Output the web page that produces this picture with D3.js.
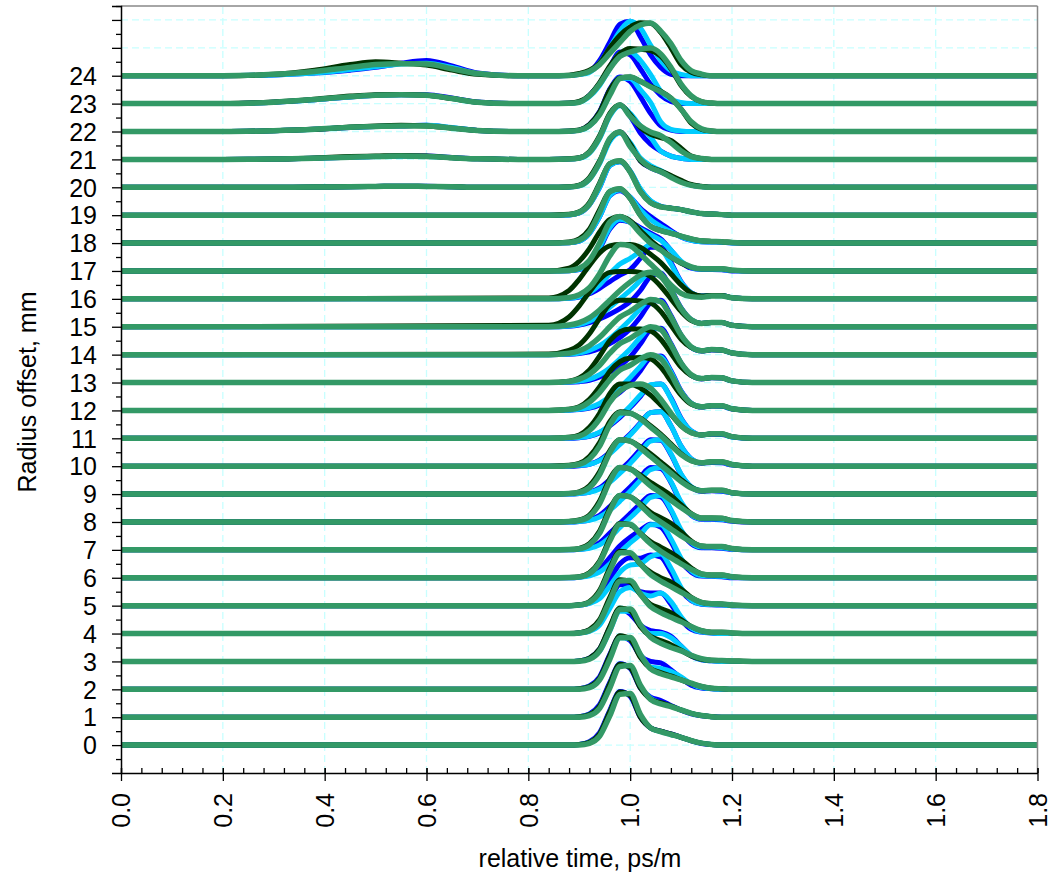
<!DOCTYPE html>
<html><head><meta charset="utf-8">
<script src="https://cdn.jsdelivr.net/npm/d3@7"></script>
<style>body{margin:0;background:#fff}svg{display:block}text{font-family:"Liberation Sans",Arial,sans-serif;fill:#000}</style>
</head><body><div id="chart"></div>
<script>
// ---- data ----
const rows = d3.range(0, 25); // radius offsets, mm
const yTickLabels = d3.range(0, 25);
const xTickValues = [0.0,0.2,0.4,0.6,0.8,1.0,1.2,1.4,1.6,1.8];
const pulseT = [0.84,0.88,0.90,0.92,0.94,0.96,0.98,1.00,1.02,1.04,1.06,1.08,1.10,1.12,1.14,1.16,1.18,1.20,1.24];
const humpT = [0.20,0.30,0.38,0.45,0.50,0.55,0.60,0.65,0.70,0.78];
const humpRows = [20,21,22,23,24];

const bluePulse = [
[0,0,.02,.12,.45,1.25,1.92,1.75,1.0,.62,.5,.4,.28,.15,.06,.02,0,0,0],
[0,0,.02,.12,.45,1.25,1.92,1.75,1.05,.72,.6,.42,.25,.12,.05,.02,0,0,0],
[0,0,.02,.12,.45,1.25,1.9,1.75,1.2,1.0,.95,.7,.4,.15,.05,.02,0,0,0],
[0,0,.02,.12,.45,1.22,1.88,1.7,1.3,1.1,1.05,.9,.55,.2,.06,.02,0,0,0],
[0,0,.02,.12,.42,1.15,1.75,1.75,1.5,1.45,1.45,1.05,.5,.15,.05,.02,0,0,0],
[0,0,.02,.1,.35,.95,1.5,1.72,1.7,1.82,1.75,1.2,.55,.18,.05,.03,.02,0,0],
[0,0,.02,.1,.3,.72,1.15,1.45,1.7,1.92,1.82,1.3,.6,.2,.06,.05,.04,0,0],
[0,0,.02,.08,.25,.6,.95,1.3,1.65,1.95,1.9,1.4,.65,.22,.08,.08,.06,.02,0],
[0,0,.02,.08,.24,.55,.9,1.25,1.62,1.95,1.92,1.42,.68,.24,.1,.1,.08,.03,0],
[0,0,.02,.07,.22,.52,.85,1.2,1.6,1.95,1.93,1.42,.7,.25,.1,.12,.1,.04,0],
[0,0,.02,.07,.22,.5,.82,1.15,1.55,1.92,1.95,1.45,.72,.26,.11,.13,.12,.04,0],
[0,0,.02,.07,.2,.45,.75,1.1,1.5,1.9,1.95,1.45,.72,.26,.12,.15,.14,.05,0],
[0,.01,.03,.08,.2,.4,.65,.98,1.42,1.88,1.95,1.42,.7,.26,.12,.16,.15,.05,0],
[0,.01,.03,.08,.2,.38,.6,.92,1.38,1.88,1.95,1.4,.7,.26,.13,.17,.16,.06,0],
[0,.01,.04,.1,.22,.4,.62,.92,1.35,1.85,1.95,1.4,.7,.26,.13,.17,.16,.06,0],
[0,.02,.06,.15,.28,.45,.65,.9,1.3,1.8,1.92,1.35,.68,.25,.12,.15,.15,.05,0],
[0,.02,.06,.18,.38,.62,.85,1.05,1.45,1.85,1.85,1.3,.62,.22,.1,.12,.12,.04,0],
[0,.01,.05,.28,.8,1.5,1.82,1.75,1.55,1.35,1.15,.75,.32,.1,.05,.05,.04,0,0],
[0,.01,.07,.35,.95,1.7,1.88,1.65,1.25,.95,.7,.45,.22,.1,.05,.04,.03,0,0],
[0,.01,.08,.38,1.0,1.78,1.92,1.58,.92,.5,.32,.25,.2,.12,.06,.04,.02,0,0],
[0,.01,.06,.3,.9,1.7,1.98,1.55,.95,.7,.55,.38,.22,.08,.03,0,0,0,0],
[0,.01,.05,.25,.8,1.6,1.95,1.55,.95,.55,.3,.12,.04,0,0,0,0,0,0],
[0,.01,.05,.25,.72,1.52,1.95,1.8,1.25,.65,.2,.05,0,0,0,0,0,0,0],
[0,.01,.06,.3,.72,1.32,1.85,1.75,1.25,.7,.3,.08,0,0,0,0,0,0,0],
[0,.01,.05,.15,.55,1.2,1.85,1.95,1.4,.75,.3,.05,0,0,0,0,0,0,0]];

const cyanPulse = [
[0,0,.02,.1,.38,1.18,1.88,1.8,1.05,.62,.48,.38,.28,.16,.07,.02,0,0,0],
[0,0,.02,.1,.38,1.18,1.88,1.8,1.1,.68,.5,.4,.26,.14,.06,.02,0,0,0],
[0,0,.02,.1,.38,1.15,1.85,1.8,1.25,.8,.75,.65,.45,.2,.06,.02,0,0,0],
[0,0,.02,.1,.36,1.1,1.8,1.8,1.3,1.0,1.0,.85,.55,.22,.07,.02,0,0,0],
[0,0,.02,.08,.3,.9,1.5,1.65,1.45,1.35,1.45,1.15,.6,.2,.06,.02,0,0,0],
[0,0,.02,.08,.25,.7,1.2,1.45,1.5,1.75,1.85,1.35,.65,.2,.06,.04,.03,0,0],
[0,0,.02,.07,.2,.5,.9,1.25,1.55,1.9,1.9,1.4,.7,.25,.08,.06,.05,.02,0],
[0,0,.02,.06,.18,.45,.8,1.15,1.5,1.88,1.95,1.45,.72,.26,.1,.1,.08,.03,0],
[0,0,.02,.06,.18,.42,.75,1.1,1.5,1.88,1.95,1.45,.72,.26,.12,.12,.1,.04,0],
[0,0,.02,.06,.18,.42,.75,1.1,1.5,1.9,1.95,1.45,.72,.26,.12,.13,.12,.04,0],
[0,.01,.03,.07,.2,.45,.78,1.12,1.52,1.92,1.95,1.45,.72,.26,.12,.15,.14,.05,0],
[0,.01,.03,.08,.22,.48,.8,1.15,1.55,1.92,1.95,1.42,.7,.26,.12,.16,.15,.05,0],
[0,.01,.04,.1,.25,.5,.82,1.18,1.58,1.95,1.92,1.38,.68,.25,.13,.17,.16,.06,0],
[0,.02,.05,.12,.28,.52,.85,1.2,1.62,1.97,1.9,1.35,.68,.26,.14,.18,.17,.06,0],
[0,.02,.06,.15,.32,.58,.9,1.25,1.65,1.97,1.9,1.35,.68,.26,.14,.18,.17,.06,0],
[0,.03,.08,.2,.4,.7,1.0,1.3,1.65,1.95,1.85,1.3,.65,.25,.12,.15,.15,.05,0],
[0,.02,.08,.22,.5,.9,1.25,1.45,1.7,1.95,1.8,1.25,.6,.22,.1,.12,.12,.04,0],
[0,.01,.06,.3,.85,1.55,1.85,1.75,1.5,1.3,1.1,.75,.35,.12,.06,.06,.05,.02,0],
[0,.01,.07,.35,.95,1.7,1.9,1.65,1.2,.85,.6,.4,.22,.1,.05,.04,.03,0,0],
[0,.01,.08,.38,1.0,1.78,1.92,1.58,.95,.52,.32,.25,.2,.12,.06,.04,.02,0,0],
[0,.01,.05,.28,.85,1.65,1.95,1.6,1.05,.78,.6,.4,.22,.08,.03,0,0,0,0],
[0,.01,.04,.22,.75,1.55,1.92,1.65,1.2,.8,.3,.12,.04,0,0,0,0,0,0],
[0,.01,.04,.2,.65,1.45,1.92,1.9,1.5,1.05,.35,.08,.02,0,0,0,0,0,0],
[0,.01,.05,.25,.65,1.25,1.8,1.85,1.55,1.05,.45,.15,.04,0,0,0,0,0,0],
[0,.01,.04,.12,.45,1.0,1.6,1.95,1.72,1.1,.55,.18,.05,0,0,0,0,0,0]];

const darkGreenPulse = [
[0,0,.02,.1,.4,1.2,1.9,1.78,1.0,.62,.5,.4,.28,.16,.07,.02,0,0,0],
[0,0,.02,.1,.4,1.2,1.9,1.78,1.05,.65,.52,.4,.26,.14,.06,.02,0,0,0],
[0,0,.02,.1,.4,1.22,1.92,1.8,1.15,.75,.6,.48,.34,.2,.1,.04,.02,0,0],
[0,0,.02,.12,.45,1.25,1.92,1.82,1.25,.9,.75,.6,.4,.2,.08,.04,.03,.02,0],
[0,0,.03,.14,.5,1.3,1.93,1.85,1.4,1.05,.9,.75,.5,.25,.1,.05,.05,.02,0],
[0,0,.03,.15,.55,1.35,1.95,1.88,1.5,1.2,1.0,.85,.6,.3,.12,.07,.06,.02,0],
[0,.01,.04,.18,.6,1.4,1.95,1.9,1.6,1.3,1.1,.9,.65,.35,.14,.1,.1,.04,0],
[0,.01,.05,.22,.68,1.48,1.95,1.9,1.65,1.35,1.15,.95,.65,.32,.14,.12,.12,.05,0],
[0,.02,.07,.25,.75,1.55,1.95,1.9,1.68,1.42,1.2,.95,.62,.3,.14,.14,.13,.05,0],
[0,.02,.08,.3,.8,1.55,1.95,1.9,1.7,1.45,1.15,.85,.52,.25,.12,.14,.14,.05,0],
[0,.03,.1,.35,.85,1.6,1.95,1.9,1.72,1.45,1.15,.8,.45,.2,.12,.16,.16,.06,0],
[0,.04,.12,.4,.9,1.6,1.95,1.95,1.8,1.55,1.2,.85,.45,.2,.12,.16,.16,.06,0],
[0,.04,.13,.4,.85,1.4,1.75,1.88,1.9,1.85,1.55,1.05,.55,.22,.13,.17,.17,.06,0],
[0,.05,.16,.45,.95,1.5,1.82,1.92,1.92,1.85,1.55,1.05,.55,.25,.14,.18,.17,.06,0],
[.02,.15,.35,.75,1.3,1.8,1.95,1.95,1.92,1.85,1.55,1.05,.55,.25,.14,.18,.17,.06,0],
[.05,.35,.75,1.25,1.7,1.95,1.98,1.98,1.95,1.8,1.45,1.0,.55,.22,.12,.15,.15,.05,0],
[.03,.3,.7,1.2,1.65,1.9,1.95,1.95,1.85,1.6,1.3,.9,.5,.2,.1,.12,.12,.04,0],
[0,.1,.35,.8,1.4,1.85,1.95,1.8,1.45,1.1,.8,.5,.28,.14,.08,.08,.08,.03,0],
[0,.04,.15,.5,1.2,1.85,1.95,1.6,1.0,.6,.45,.35,.25,.15,.08,.06,.05,.02,0],
[0,.03,.12,.45,1.15,1.85,1.95,1.55,.85,.45,.3,.25,.2,.12,.06,.04,.02,0,0],
[0,.02,.08,.35,.95,1.72,1.98,1.55,.95,.72,.58,.42,.25,.1,.04,0,0,0,0],
[0,.02,.06,.28,.85,1.65,1.95,1.6,1.15,.9,.78,.68,.4,.12,.03,0,0,0,0],
[0,.02,.06,.25,.7,1.5,1.92,1.95,1.8,1.62,1.45,1.2,.8,.3,.08,.02,0,0,0],
[0,.02,.08,.3,.75,1.35,1.8,1.98,1.95,1.9,1.7,1.25,.65,.25,.07,.02,0,0,0],
[0,.02,.08,.2,.45,1.0,1.45,1.75,1.9,1.88,1.55,1.0,.4,.12,.03,0,0,0,0]];

const seaGreenPulse = [
[0,0,0,.06,.32,1.05,1.82,1.85,1.1,.62,.48,.38,.28,.16,.07,.02,0,0,0],
[0,0,0,.06,.32,1.05,1.82,1.85,1.15,.64,.48,.38,.26,.14,.06,.02,0,0,0],
[0,0,0,.06,.34,1.08,1.85,1.86,1.25,.74,.56,.45,.34,.22,.1,.04,.02,0,0],
[0,0,.01,.08,.38,1.12,1.86,1.88,1.32,.87,.65,.5,.38,.22,.1,.04,.03,.02,0],
[0,0,.02,.1,.42,1.18,1.88,1.9,1.42,.97,.75,.58,.42,.25,.1,.05,.05,.02,0],
[0,0,.02,.12,.48,1.25,1.9,1.9,1.5,1.12,.88,.68,.48,.28,.12,.07,.06,.02,0],
[0,.01,.03,.15,.55,1.32,1.92,1.92,1.58,1.22,.95,.72,.5,.3,.14,.1,.1,.04,0],
[0,.01,.04,.18,.6,1.4,1.95,1.9,1.6,1.25,1.0,.75,.5,.28,.14,.12,.12,.05,0],
[0,.02,.05,.2,.66,1.46,1.95,1.9,1.62,1.3,1.05,.78,.52,.28,.14,.14,.13,.05,0],
[0,.02,.06,.23,.7,1.48,1.95,1.9,1.65,1.35,1.05,.75,.45,.22,.12,.14,.14,.05,0],
[0,.02,.07,.26,.72,1.48,1.92,1.9,1.7,1.4,1.1,.75,.42,.2,.12,.16,.16,.06,0],
[0,.03,.08,.28,.7,1.3,1.7,1.9,1.95,1.8,1.4,.9,.45,.2,.12,.16,.16,.06,0],
[0,.03,.1,.3,.65,1.1,1.45,1.62,1.85,2.0,1.85,1.3,.65,.25,.13,.17,.17,.06,0],
[0,.04,.12,.3,.62,1.05,1.4,1.58,1.82,2.0,1.9,1.35,.7,.28,.14,.18,.17,.06,0],
[0,.05,.14,.32,.62,1.0,1.35,1.55,1.8,1.98,1.9,1.35,.7,.28,.14,.18,.17,.06,0],
[0,.06,.15,.32,.6,.95,1.3,1.6,1.85,1.95,1.8,1.3,.65,.25,.12,.15,.15,.05,0],
[0,.05,.15,.4,.9,1.55,1.95,1.9,1.6,1.25,.9,.5,.2,.08,.06,.1,.1,.04,0],
[0,.02,.1,.38,1.0,1.75,1.95,1.75,1.35,1.0,.75,.5,.3,.15,.08,.08,.08,.03,0],
[0,.02,.1,.4,1.1,1.85,1.95,1.6,1.0,.6,.45,.35,.25,.15,.08,.06,.05,.02,0],
[0,.02,.1,.4,1.1,1.85,1.95,1.55,.85,.45,.3,.25,.2,.12,.06,.04,.02,0,0],
[0,.01,.06,.3,.9,1.75,1.98,1.46,1.0,.7,.56,.36,.18,.07,.02,0,0,0,0],
[0,.01,.05,.25,.8,1.6,1.96,1.54,1.2,.98,.85,.6,.3,.1,.03,0,0,0,0],
[0,.01,.04,.2,.6,1.3,1.9,1.95,1.8,1.6,1.42,1.2,.8,.35,.1,.02,0,0,0],
[0,.01,.05,.28,.7,1.25,1.69,1.85,1.95,1.99,1.78,1.3,.7,.28,.07,.02,0,0,0],
[0,.01,.05,.15,.4,.8,1.2,1.59,1.82,1.89,1.6,1.15,.55,.18,.06,0,0,0,0]];

// left bumps of the outermost offsets (rows 20..24)
const blueHump = [
[0,0,.01,.02,.03,.04,.04,.02,0,0],
[0,.01,.04,.08,.1,.12,.12,.07,.02,0],
[0,.03,.08,.14,.18,.2,.22,.13,.04,0],
[0,.05,.14,.24,.3,.32,.32,.2,.06,0],
[0,.03,.1,.2,.3,.45,.55,.35,.1,0]];
const cyanHump = [
[0,0,.01,.02,.03,.04,.03,.02,0,0],
[0,.01,.04,.08,.1,.11,.1,.06,.02,0],
[0,.03,.08,.15,.18,.21,.22,.14,.04,0],
[0,.05,.14,.24,.3,.32,.3,.18,.05,0],
[0,.03,.1,.22,.32,.42,.45,.3,.08,0]];
const darkGreenHump = [
[0,0,.01,.02,.03,.04,.03,.02,0,0],
[0,.01,.05,.1,.12,.14,.12,.06,.02,0],
[0,.03,.08,.16,.2,.22,.2,.12,.04,0],
[0,.06,.16,.27,.32,.33,.3,.18,.05,0],
[0,.05,.2,.4,.5,.45,.38,.2,.05,0]];
const seaGreenHump = [
[0,0,.01,.02,.03,.04,.03,.02,0,0],
[0,.01,.04,.08,.1,.12,.1,.06,.02,0],
[0,.03,.08,.15,.18,.2,.2,.12,.04,0],
[0,.05,.15,.25,.3,.32,.3,.18,.05,0],
[0,.05,.15,.3,.4,.43,.42,.25,.08,0]];

const seriesList = [
  {name:"blue", color:"#0000ff", width:5, pulse:bluePulse, hump:blueHump},
  {name:"cyan", color:"#00ccff", width:5, pulse:cyanPulse, hump:cyanHump},
  {name:"darkgreen", color:"#003300", width:5, pulse:darkGreenPulse, hump:darkGreenHump},
  {name:"seagreen", color:"#339966", width:5.5, pulse:seaGreenPulse, hump:seaGreenHump}
];

// ---- layout ----
const W = 1051, H = 880;
const m = {left:121, right:1051-1037.5, top:6, bottom:880-773};
const svg = d3.select("#chart").append("svg").attr("width", W).attr("height", H);
const x = d3.scaleLinear().domain([0, 1.8]).range([m.left, W - m.right]);
const y = d3.scaleLinear().domain([-1, 26.5]).range([H - m.bottom, m.top]);

svg.append("defs").append("clipPath").attr("id","clip").append("rect")
  .attr("x", x(0)).attr("y", y(26.5)).attr("width", x(1.8)-x(0)).attr("height", y(-1)-y(26.5));

// grid
const grid = svg.append("g");
grid.selectAll("line.v").data(xTickValues.slice(1, -1)).join("line")
  .attr("x1", d=>x(d)).attr("x2", d=>x(d)).attr("y1", y(-1)).attr("y2", y(26.5))
  .attr("stroke", "#c8ffff").attr("stroke-width", 1.3).attr("stroke-dasharray", "7,4");
grid.selectAll("line.h").data(d3.range(0, 27)).join("line")
  .attr("x1", x(0)).attr("x2", x(1.8)).attr("y1", d=>y(d)).attr("y2", d=>y(d))
  .attr("stroke", "#c8ffff").attr("stroke-width", 1.3).attr("stroke-dasharray", "7,4");

// traces
function tracePoints(s, r) {
  const pts = [[0, 0]];
  const hi = humpRows.indexOf(r);
  if (hi >= 0) humpT.forEach((t, i) => pts.push([t, s.hump[hi][i]]));
  pulseT.forEach((t, i) => pts.push([t, s.pulse[r][i]]));
  pts.push([1.8, 0]);
  return pts;
}
const plot = svg.append("g").attr("clip-path", "url(#clip)");
seriesList.forEach(s => {
  rows.forEach(r => {
    const line = d3.line().x(d => x(d[0])).y(d => y(r + d[1])).curve(d3.curveMonotoneX);
    plot.append("path").datum(tracePoints(s, r)).attr("d", line)
      .attr("fill", "none").attr("stroke", s.color).attr("stroke-width", s.width)
      .attr("stroke-linejoin", "round").attr("stroke-linecap", "butt");
  });
});

// frame
svg.append("line").attr("x1", x(0)).attr("x2", x(1.8)).attr("y1", y(26.5)).attr("y2", y(26.5)).attr("stroke", "#888").attr("stroke-width", 1.5);
svg.append("line").attr("x1", x(1.8)).attr("x2", x(1.8)).attr("y1", y(26.5)).attr("y2", y(-1)).attr("stroke", "#888").attr("stroke-width", 1.5);

// y axis
const yAxis = svg.append("g").attr("transform", `translate(${x(0)},0)`);
yAxis.call(d3.axisLeft(y).tickValues(d3.range(0, 27)).tickSize(9).tickFormat(d => yTickLabels.includes(d) ? d : ""))
  .call(g => g.select(".domain").attr("stroke", "#000").attr("stroke-width", 1.5))
  .call(g => g.selectAll(".tick line").attr("stroke", "#000").attr("stroke-width", 1.3))
  .call(g => g.selectAll(".tick text").attr("font-size", 25).attr("x", -24).attr("dy", "0.35em"));
yAxis.append("g").call(d3.axisLeft(y).tickValues(d3.range(-0.5, 27, 1)).tickSize(5).tickFormat(""))
  .call(g => g.select(".domain").remove())
  .call(g => g.selectAll(".tick line").attr("stroke", "#000").attr("stroke-width", 1.3));

// x axis
const xAxis = svg.append("g").attr("transform", `translate(0,${y(-1)})`);
xAxis.call(d3.axisBottom(x).tickValues(xTickValues).tickSizeInner(8).tickSizeOuter(0).tickFormat(d3.format(".1f")))
  .call(g => g.select(".domain").attr("stroke", "#000").attr("stroke-width", 1.5))
  .call(g => g.selectAll(".tick line").attr("stroke", "#000").attr("stroke-width", 1.3).attr("y1", -5))
  .call(g => g.selectAll(".tick text").attr("font-size", 25)
     .attr("transform", "rotate(-90)").attr("x", -20).attr("y", 0).attr("dy", "0.35em").attr("text-anchor", "end"));
xAxis.append("g").call(d3.axisBottom(x).tickValues(d3.range(0, 1.8001, 0.04)).tickSize(-5).tickFormat(""))
  .call(g => g.select(".domain").remove())
  .call(g => g.selectAll(".tick line").attr("stroke", "#000").attr("stroke-width", 1.3));

// titles
svg.append("text").attr("x", 580).attr("y", 867).attr("text-anchor", "middle").attr("font-size", 25).text("relative time, ps/m");
svg.append("text").attr("transform", "translate(36,392) rotate(-90)").attr("text-anchor", "middle").attr("font-size", 25).text("Radius offset, mm");
</script></body></html>
